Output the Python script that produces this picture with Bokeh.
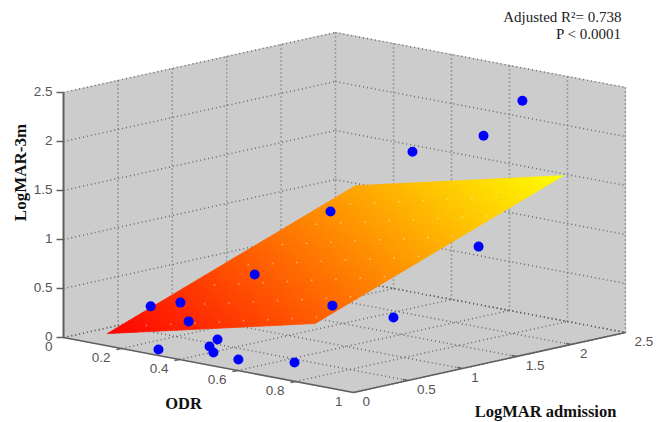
from bokeh.plotting import figure
from bokeh.models import Range1d
from bokeh.embed import file_html
from bokeh.resources import INLINE
from bokeh.core.properties import value
import numpy as np

# Data
odr_ticks = [0, 0.2, 0.4, 0.6, 0.8, 1]
adm_ticks = [0, 0.5, 1, 1.5, 2, 2.5]
z_ticks = [0, 0.5, 1, 1.5, 2, 2.5]
odr_labels = ["0", "0.2", "0.4", "0.6", "0.8", "1"]
adm_labels = ["0", "0.5", "1", "1.5", "2", "2.5"]
z_labels = ["0", "0.5", "1", "1.5", "2", "2.5"]

pt_odr = [0.188, 0.253, 0.319, 0.290, 0.381, 0.391, 0.442, 0.528, 0.684,
          0.359, 0.433, 0.552, 0.681, 0.575, 0.453, 0.623, 0.682]
pt_adm = [0.3, 0.4, 0.3, 0.1, 0.4, 0.3, 0.2, 0.2, 0.3,
          0.8, 1.3, 1.0, 2.0, 1.5, 2.0, 2.2, 2.4]
pt_z = [0.35, 0.40, 0.27, 0.016, 0.096, 0.054, 0.046, 0.022, 0.055,
        0.648, 1.21, 0.39, 0.82, 0.16, 1.66, 1.87, 2.21]

# fitted plane: corners (odr, adm, z)
surf_odr = [0.114, 0.83]
surf_adm = [0.10, 2.38]
surf_z = [[0.08, 1.03], [0.584, 1.534]]  # [odr index][adm index]
# faint mesh nodes on the plane (fractions along each side)
mesh_s = [0.134, 0.251, 0.368, 0.485, 0.602, 0.719, 0.836, 0.953]
mesh_t = [0.045, 0.182, 0.319, 0.456, 0.593, 0.730, 0.867]


def proj(o, a, z):
    o, a, z = np.asarray(o, float), np.asarray(a, float), np.asarray(z, float)
    return 63 + 290 * o + 108.8 * a, 337 + 55 * o - 24 * a - 98 * z


W, H = 662, 422
p = figure(width=W, height=H, output_backend="svg", toolbar_location=None,
           x_range=Range1d(0, W), y_range=Range1d(H, 0),
           min_border=0, outline_line_color=None, background_fill_color="white")
p.axis.visible = False
p.grid.visible = False

GREY = "#cccccc"
LINE = "#5f5f5f"
DOT = "#6a6a6a"


def poly(*corners):
    xs, ys = zip(*[proj(*c) for c in corners])
    p.patch([float(v) for v in xs], [float(v) for v in ys], fill_color=GREY, line_color=GREY, line_width=1)


poly((0, 0, 0), (1, 0, 0), (1, 2.5, 0), (0, 2.5, 0))
poly((0, 0, 0), (0, 2.5, 0), (0, 2.5, 2.5), (0, 0, 2.5))
poly((0, 2.5, 0), (1, 2.5, 0), (1, 2.5, 2.5), (0, 2.5, 2.5))


def dotted(a, b, width=1.5):
    x0, y0 = proj(*a)
    x1, y1 = proj(*b)
    p.line([float(x0), float(x1)], [float(y0), float(y1)], line_color=DOT, line_width=width, line_dash="1 3")


def solid(a, b, width=1.6, color=LINE):
    x0, y0 = proj(*a)
    x1, y1 = proj(*b)
    p.line([float(x0), float(x1)], [float(y0), float(y1)], line_color=color, line_width=width)


for t in odr_ticks[1:]:
    dotted((t, 0, 0), (t, 2.5, 0))
    dotted((t, 2.5, 0), (t, 2.5, 2.5))
for t in adm_ticks[1:]:
    dotted((0, t, 0), (1, t, 0))
    dotted((0, t, 0), (0, t, 2.5))
dotted((0, 0, 0), (0, 2.5, 0))
dotted((0, 2.5, 0), (1, 2.5, 0))
for t in z_ticks:
    dotted((0, 0, t), (0, 2.5, t))
    dotted((0, 2.5, t), (1, 2.5, t))


# surface
def surf(s, t):
    o = surf_odr[0] + s * (surf_odr[1] - surf_odr[0])
    a = surf_adm[0] + t * (surf_adm[1] - surf_adm[0])
    z = ((1 - s) * (1 - t) * surf_z[0][0] + (1 - s) * t * surf_z[0][1]
         + s * (1 - t) * surf_z[1][0] + s * t * surf_z[1][1])
    return o, a, z


N = 36
u = np.linspace(0, 1, N + 1)
xs, ys, cols = [], [], []
zmin, zmax = surf_z[0][0], surf_z[1][1]
for i in range(N):
    for j in range(N):
        cs = [surf(u[i], u[j]), surf(u[i + 1], u[j]), surf(u[i + 1], u[j + 1]), surf(u[i], u[j + 1])]
        xy = [proj(*c) for c in cs]
        xs.append([float(q[0]) for q in xy])
        ys.append([float(q[1]) for q in xy])
        zc = sum(c[2] for c in cs) / 4
        g = int(round(255 * (zc - zmin) / (zmax - zmin)))
        cols.append(f"#ff{g:02x}00")
p.patches(xs, ys, fill_color=cols, line_color=cols, line_width=0.8)

mx, my = [], []
for s in mesh_s:
    for t in mesh_t:
        qx, qy = proj(*surf(s, t))
        mx.append(float(qx))
        my.append(float(qy))
p.scatter(mx, my, size=2, fill_color="white", fill_alpha=0.35, line_color=None)

# axes
solid((0, 0, 0), (0, 0, 2.5), 2)
solid((0, 0, 0), (1, 0, 0), 1.6)
solid((1, 0, 0), (1, 2.5, 0), 1.6)
for t in z_ticks:
    x, y = proj(0, 0, t)
    p.line([float(x) - 7, float(x)], [float(y), float(y)], line_color=LINE, line_width=1.3)
for t in odr_ticks[1:5]:
    x, y = proj(t, 0, 0)
    p.line([float(x) - 5, float(x)], [float(y) + 1, float(y)], line_color=LINE, line_width=1.3)
for t in adm_ticks[1:5]:
    x, y = proj(1, t, 0)
    p.line([float(x) - 5, float(x)], [float(y) - 1, float(y)], line_color=LINE, line_width=1.3)

# points
px, py = proj(pt_odr, pt_adm, pt_z)
p.scatter(px.tolist(), py.tolist(), size=10, fill_color="#0000ff", line_color="#0000ff", line_width=0)


def label(x, y, s, align, font="Liberation Sans", size="13.5px", color="#555555", style="normal", angle=0.0):
    p.text([x], [y], text=[s], text_align=align, text_baseline="middle", text_font=value(font),
           text_font_size=size, text_color=color, text_font_style=style, angle=angle)


for t, s in zip(z_ticks, z_labels):
    x, y = proj(0, 0, t)
    label(float(x) - 11, float(y) - 1, s, "right")
for t, s in zip(odr_ticks, odr_labels):
    x, y = proj(t, 0, 0)
    label(float(x) - 11, float(y) + 9, s, "right")
for t, s in zip(adm_ticks, adm_labels):
    x, y = proj(1, t, 0)
    label(float(x) + 9, float(y) + 9, s, "left")

SERIF = "Liberation Serif"
label(20, 172, "LogMAR-3m", "center", SERIF, "17px", "#111111", "bold", np.pi / 2)
label(183, 403, "ODR", "center", SERIF, "16.5px", "#111111", "bold")
label(545, 411, "LogMAR admission", "center", SERIF, "16.5px", "#111111", "bold")
label(621, 16, "Adjusted R²= 0.738", "right", SERIF, "15px", "#222222")
label(621, 33, "P < 0.0001", "right", SERIF, "15px", "#222222")

open("out.html", "w").write(file_html(p, INLINE))
